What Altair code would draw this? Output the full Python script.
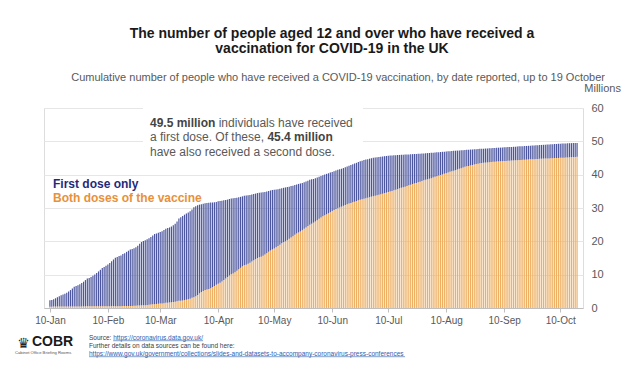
import altair as alt
import pandas as pd

# ---- data (millions, cumulative, by date reported) ----
first_jan = [2.29, 2.43, 2.64, 2.92, 3.23, 3.56, 3.86, 4.06, 4.27, 4.61, 4.97, 5.38, 5.86, 6.35, 6.57, 6.85, 7.16, 7.47, 7.89, 8.38, 8.86, 9.00]
first_feb = [9.30, 9.65, 10.02, 10.49, 10.97, 11.46, 11.98, 12.29, 12.65, 13.06, 13.51, 14.01, 14.56, 15.06, 15.30, 15.58, 15.76, 16.17, 16.42, 16.84, 17.18, 17.58, 17.72, 17.92, 18.24, 18.70, 19.25, 19.80]
first_mar = [20.10, 20.35, 20.60, 20.90, 21.30, 21.75, 22.20, 22.35, 22.58, 22.81, 23.06, 23.40, 23.76, 24.00, 24.17, 24.45, 24.84, 25.27, 25.94, 26.85, 27.21, 27.63, 28.00, 28.35, 28.65, 29.06, 29.56, 30.20, 30.50, 30.80, 31.00]
first_apr = [31.15, 31.30, 31.42, 31.52, 31.58, 31.62, 31.66, 31.71, 31.80, 32.00, 32.11, 32.19, 32.29, 32.39, 32.52, 32.67, 32.84, 32.92, 33.01, 33.11, 33.23, 33.35, 33.50, 33.68, 33.75, 33.84, 33.93, 34.04, 34.17, 34.32]
first_may = [34.48, 34.57, 34.67, 34.73, 34.82, 34.93, 35.09, 35.26, 35.37, 35.47, 35.55, 35.66, 35.78, 35.91, 36.06, 36.17, 36.28, 36.41, 36.57, 36.70, 36.88, 37.07, 37.22, 37.36, 37.52, 37.73, 37.95, 38.19, 38.46, 38.64, 38.70]
first_jun = [38.90, 39.12, 39.35, 39.60, 39.86, 40.06, 40.24, 40.42, 40.62, 40.83, 41.05, 41.26, 41.47, 41.63, 41.78, 41.98, 42.20, 42.44, 42.70, 42.92, 43.10, 43.32, 43.55, 43.78, 44.00, 44.20, 44.38, 44.52, 44.66, 44.80]
first_jul = [44.93, 45.05, 45.17, 45.26, 45.32, 45.40, 45.47, 45.54, 45.61, 45.67, 45.72, 45.76, 45.80, 45.84, 45.88, 45.92, 45.96, 45.99, 46.02, 46.05, 46.08, 46.12, 46.16, 46.20, 46.23, 46.26, 46.29, 46.33, 46.37, 46.42, 46.47]
first_aug = [46.51, 46.55, 46.59, 46.64, 46.69, 46.75, 46.81, 46.86, 46.90, 46.95, 47.00, 47.05, 47.10, 47.15, 47.19, 47.23, 47.27, 47.31, 47.36, 47.41, 47.46, 47.50, 47.54, 47.58, 47.62, 47.66, 47.71, 47.75, 47.78, 47.81, 47.84]
first_sep = [47.88, 47.92, 47.96, 48.00, 48.03, 48.06, 48.09, 48.12, 48.16, 48.20, 48.24, 48.27, 48.30, 48.33, 48.37, 48.41, 48.45, 48.49, 48.52, 48.55, 48.58, 48.62, 48.66, 48.70, 48.74, 48.77, 48.80, 48.84, 48.88, 48.92]
first_oct = [48.96, 49.00, 49.03, 49.06, 49.10, 49.14, 49.18, 49.22, 49.26, 49.29, 49.32, 49.35, 49.38, 49.41, 49.44, 49.46, 49.48, 49.49, 49.50]

second_jan = [0.39, 0.41, 0.42, 0.43, 0.44, 0.44, 0.44, 0.44, 0.44, 0.44, 0.45, 0.45, 0.46, 0.46, 0.47, 0.47, 0.47, 0.47, 0.48, 0.49, 0.49, 0.49]
second_feb = [0.49, 0.50, 0.50, 0.51, 0.52, 0.52, 0.52, 0.52, 0.53, 0.53, 0.54, 0.54, 0.55, 0.55, 0.55, 0.56, 0.56, 0.57, 0.58, 0.59, 0.60, 0.62, 0.63, 0.66, 0.70, 0.74, 0.77, 0.80]
second_mar = [0.82, 0.85, 0.90, 0.96, 1.03, 1.11, 1.16, 1.21, 1.26, 1.32, 1.38, 1.45, 1.55, 1.61, 1.67, 1.72, 1.79, 1.89, 2.02, 2.15, 2.20, 2.27, 2.36, 2.46, 2.60, 2.81, 3.07, 3.24, 3.50, 3.90, 4.40]
second_apr = [4.80, 5.10, 5.40, 5.55, 5.70, 5.95, 6.25, 6.60, 6.95, 7.30, 7.55, 7.95, 8.40, 8.85, 9.30, 9.75, 10.10, 10.35, 10.75, 11.15, 11.60, 12.05, 12.50, 12.80, 13.00, 13.30, 13.60, 13.95, 14.30, 14.65]
second_may = [15.00, 15.20, 15.40, 15.70, 16.05, 16.45, 16.85, 17.25, 17.55, 17.85, 18.20, 18.60, 19.00, 19.40, 19.75, 20.00, 20.35, 20.75, 21.15, 21.55, 21.95, 22.35, 22.65, 22.95, 23.35, 23.75, 24.15, 24.60, 25.00, 25.30, 25.60]
second_jun = [25.95, 26.35, 26.75, 27.15, 27.55, 27.85, 28.10, 28.40, 28.75, 29.10, 29.40, 29.70, 29.95, 30.15, 30.40, 30.65, 30.90, 31.15, 31.35, 31.50, 31.70, 31.90, 32.10, 32.30, 32.50, 32.65, 32.80, 32.95, 33.10, 33.25]
second_jul = [33.40, 33.55, 33.70, 33.85, 34.00, 34.15, 34.30, 34.45, 34.60, 34.80, 34.95, 35.10, 35.30, 35.50, 35.70, 35.90, 36.10, 36.25, 36.40, 36.60, 36.80, 37.00, 37.20, 37.35, 37.50, 37.70, 37.90, 38.10, 38.30, 38.45, 38.60]
second_aug = [38.75, 38.95, 39.15, 39.35, 39.55, 39.75, 39.90, 40.05, 40.25, 40.45, 40.65, 40.85, 41.05, 41.20, 41.35, 41.55, 41.75, 41.95, 42.15, 42.35, 42.50, 42.60, 42.75, 42.90, 43.05, 43.20, 43.30, 43.40, 43.48, 43.55, 43.62]
second_sep = [43.68, 43.74, 43.80, 43.85, 43.89, 43.93, 43.97, 44.01, 44.05, 44.09, 44.12, 44.15, 44.19, 44.23, 44.27, 44.31, 44.35, 44.38, 44.41, 44.44, 44.48, 44.52, 44.56, 44.60, 44.63, 44.66, 44.69, 44.72, 44.75, 44.78]
second_oct = [44.81, 44.84, 44.86, 44.88, 44.91, 44.94, 44.97, 45.00, 45.03, 45.05, 45.07, 45.10, 45.13, 45.17, 45.21, 45.25, 45.29, 45.33, 45.40]

first_dose = (first_jan + first_feb + first_mar + first_apr + first_may + first_jun
              + first_jul + first_aug + first_sep + first_oct)
second_dose = (second_jan + second_feb + second_mar + second_apr + second_may + second_jun
               + second_jul + second_aug + second_sep + second_oct)
dates = pd.date_range("2021-01-10", "2021-10-19", freq="D").strftime("%Y-%m-%d").tolist()

tick_months = [1, 2, 3, 4, 5, 6, 7, 8, 9, 10]
y_ticks = [0, 10, 20, 30, 40, 50, 60]

title_lines = ["The number of people aged 12 and over who have received a",
               "vaccination for COVID-19 in the UK"]
subtitle = "Cumulative number of people who have received a COVID-19 vaccination, by date reported, up to 19 October"
unit_label = "Millions"
legend_first = "First dose only"
legend_both = "Both doses of the vaccine"
source_url = "https://coronavirus.data.gov.uk/"
further_url = "https://www.gov.uk/government/collections/slides-and-datasets-to-accompany-coronavirus-press-conferences"

df = pd.DataFrame({"date": dates, "first": first_dose, "second": second_dose})

# ---- styling ----
FONT = "Liberation Sans"
BLUE = "#4c569e"
ORANGE = "#eeaf62"
GREY = "#595959"
W, H = 539, 200
BAR = 1.2

x_enc = alt.X(
    "date:T",
    title=None,
    scale=alt.Scale(
        type="utc",
        domain=[alt.DateTime(year=2021, month=1, date=9, hours=12, utc=True),
                alt.DateTime(year=2021, month=10, date=19, hours=12, utc=True)],
    ),
    axis=alt.Axis(
        values=[alt.DateTime(year=2021, month=m, date=10, utc=True) for m in tick_months],
        format="%d-%b", grid=False, domainColor="#bfbfbf", tickColor="#bfbfbf",
        tickSize=4, labelColor=GREY, labelFontSize=10, labelPadding=3,
        labelFlush=False, labelOverlap=False, labelFont=FONT,
    ),
)
y_scale = alt.Scale(domain=[0, 60], nice=False)
y_axis = alt.Axis(orient="right", values=y_ticks, grid=True, gridColor="#e6e6e6",
                  domain=False, ticks=False, tickSize=0, labelPadding=8,
                  labelOverlap=False, labelColor=GREY, labelFontSize=11,
                  labelFont=FONT)

base = alt.Chart(df)
# both doses: from 0 up to the second-dose total
orange_bars = base.mark_bar(size=BAR, color=ORANGE).encode(
    x=x_enc,
    y=alt.Y("second:Q", title=None, scale=y_scale, axis=y_axis),
)
# first dose only: from the second-dose total up to the first-dose total
blue_bars = base.mark_bar(size=BAR, color=BLUE).encode(
    x=x_enc,
    y=alt.Y("first:Q", title=None, scale=y_scale, axis=y_axis),
    y2="second:Q",
)

one = pd.DataFrame({"k": [0]})


def label(text, x, y, size, color, weight="normal", align="left", font=FONT):
    return alt.Chart(one).mark_text(
        align=align, baseline="alphabetic", fontSize=size, fontWeight=weight,
        color=color, font=font,
    ).encode(x=alt.value(x), y=alt.value(y), text=alt.value(text))


def hline(x1, x2, y, color, width=0.6):
    return alt.Chart(one).mark_rule(color=color, strokeWidth=width).encode(
        x=alt.value(x1), x2=alt.value(x2), y=alt.value(y))


white_box = alt.Chart(one).mark_rect(color="white").encode(
    x=alt.value(99), x2=alt.value(319), y=alt.value(-10), y2=alt.value(50))

LINK = "#3060b0"
layers = [
    orange_bars, blue_bars, white_box,
    label(title_lines[0], 288, -70, 14, "#1a1a1a", "bold", "center"),
    label(title_lines[1], 288, -55, 14, "#1a1a1a", "bold", "center"),
    label(subtitle, 561, -27, 11, GREY, align="right"),
    label(unit_label, 577, -16, 11, GREY, align="right"),
    label("49.5 million", 106, 19, 12, "#444444", "bold"),
    label("individuals have received", 174.7, 19, 12, GREY),
    label("a first dose. Of these,", 106, 33, 12, GREY),
    label("45.4 million", 223.4, 33, 12, "#444444", "bold"),
    label("have also received a second dose.", 106, 48, 12, GREY),
    label(legend_first, 9, 80, 12, "#1f2b7a", "bold"),
    label(legend_both, 9, 94, 12, "#e8913a", "bold"),
    label("\u265b", -20.5, 240, 14, "#222222", "normal", "center", "DejaVu Sans"),
    label("COBR", -12, 238, 14, "#1a1a1a", "bold"),
    label("Cabinet Office Briefing Rooms", -29, 246, 4.2, "#555555"),
    label("Source:", 45, 231.5, 6.5, "#404040"),
    label(source_url, 69.2, 231.5, 6.5, LINK),
    hline(69.2, 159, 232.7, LINK),
    label("Further details on data sources can be found here:", 45, 239.5, 6.5, "#404040"),
    label(further_url, 45, 247.5, 6.5, LINK),
    hline(45, 361, 248.7, LINK),
]

chart = alt.layer(*layers).properties(
    width=W, height=H,
    autosize=alt.AutoSizeParams(type="none"),
    padding={"left": 36, "top": 100, "right": 47, "bottom": 50},
).configure_view(stroke=None).configure(font=FONT)

chart.save("out.html", embed_options={"renderer": "svg", "actions": False})
